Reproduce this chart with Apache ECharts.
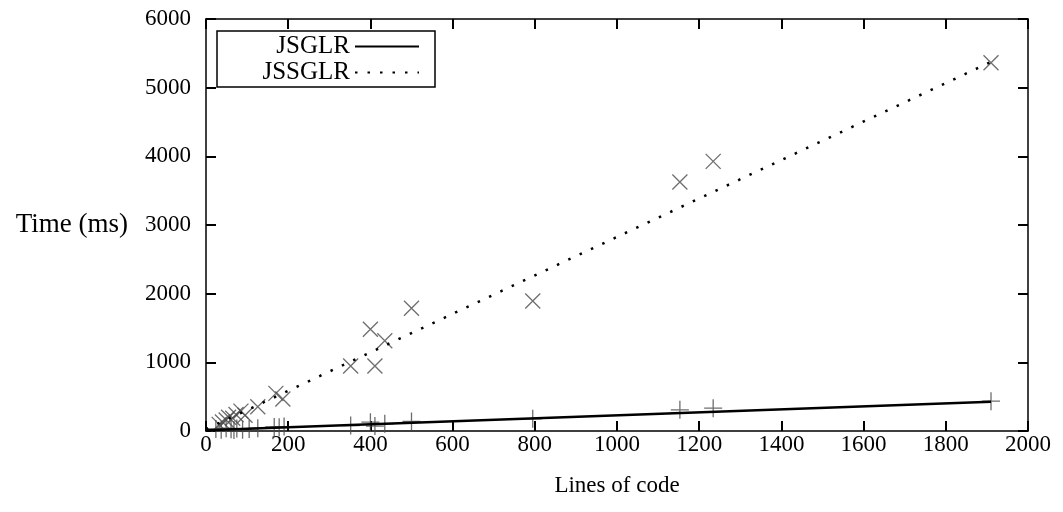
<!DOCTYPE html>
<html lang="en">
<head>
<meta charset="utf-8">
<title>JSGLR vs JSSGLR</title>
<script src="https://cdn.jsdelivr.net/npm/echarts@6/dist/echarts.min.js"></script>
<style>
  html, body { margin: 0; padding: 0; background: #fff; }
  #chart { width: 1063px; height: 512px; }
</style>
</head>
<body>
<div id="chart"></div>
<script>
  // measurements: [lines of code, time in ms]
  var jssglrPoints = [
    [32, 97], [40, 130], [49, 160], [55, 200], [65, 185], [73, 241], [85, 290],
    [95, 230], [126, 353], [170, 548], [187, 465], [352, 946], [400, 1483],
    [411, 946], [435, 1314], [500, 1788], [795, 1894], [1153, 3627],
    [1234, 3926], [1910, 5363]
  ];
  var jsglrPoints = [
    [24, 30], [37, 20], [49, 40], [61, 25], [68, 15], [75, 35], [89, 20],
    [105, 30], [126, 40], [166, 60], [178, 55], [190, 65], [352, 80],
    [400, 129], [411, 71], [435, 104], [500, 140], [795, 177], [1153, 308],
    [1234, 332], [1910, 434]
  ];
  // fitted lines (end points)
  var jsglrFit = [[0, 12], [1910, 425]];
  var jssglrFit = [[0, 25], [1910, 5375]];

  var font = 'Liberation Serif, Times New Roman, serif';
  var plusPath = 'path://M0,-10 L0,10 M-10,0 L10,0';
  var crossPath = 'path://M-10,-10 L10,10 M-10,10 L10,-10';

  var chart = echarts.init(document.getElementById('chart'));

  function plain(v) { return String(v); }

  function xAx(pos, show) {
    return {
      type: 'value', position: pos, min: 0, max: 2000, interval: 200,
      name: show ? 'Lines of code' : '', nameLocation: 'middle', nameGap: 43,
      nameTextStyle: { fontFamily: font, fontSize: 23, color: '#000' },
      axisLine: { show: true, onZero: false, lineStyle: { color: '#000', width: 1.5 } },
      axisTick: { show: true, inside: true, length: 10, lineStyle: { color: '#000', width: 2 } },
      axisLabel: { show: show, fontFamily: font, fontSize: 23, color: '#000', margin: 2, formatter: plain },
      splitLine: { show: false }
    };
  }
  function yAx(pos, show) {
    return {
      type: 'value', position: pos, min: 0, max: 6000, interval: 1000,
      name: show ? 'Time (ms)' : '', nameLocation: 'middle', nameGap: 78, nameRotate: 0,
      nameTextStyle: { fontFamily: font, fontSize: 27, color: '#000', align: 'right' },
      axisLine: { show: true, onZero: false, lineStyle: { color: '#000', width: 1.5 } },
      axisTick: { show: true, inside: true, length: 10, lineStyle: { color: '#000', width: 2 } },
      axisLabel: { show: show, fontFamily: font, fontSize: 23, color: '#000', margin: 15, formatter: plain },
      splitLine: { show: false }
    };
  }

  var option = {
    animation: false,
    backgroundColor: '#fff',
    grid: { left: 206, right: 35, top: 19, bottom: 81 },
    legend: {
      left: 217, top: 31, orient: 'vertical', align: 'right',
      data: ['JSGLR', 'JSSGLR'],
      itemWidth: 64, itemHeight: 14, itemGap: 1,
      padding: [3, 15, 2, 5],
      borderColor: '#000', borderWidth: 1.5, borderRadius: 0,
      backgroundColor: '#fff',
      itemStyle: { opacity: 0 },
      formatter: function (name) { return '{n|' + name + '}'; },
      textStyle: {
        fontFamily: font, fontSize: 25, color: '#000',
        rich: { n: { width: 128, align: 'right', fontFamily: font, fontSize: 25, lineHeight: 21, height: 21 } }
      }
    },
    xAxis: [xAx('bottom', true), xAx('top', false)],
    yAxis: [yAx('left', true), yAx('right', false)],
    series: [
      {
        name: 'JSGLR', type: 'line', data: jsglrFit, symbol: 'none',
        itemStyle: { color: '#000' },
        lineStyle: { color: '#000', width: 2.5 }, z: 3
      },
      {
        name: 'JSSGLR', type: 'line', data: jssglrFit, symbol: 'none',
        itemStyle: { color: '#000' },
        lineStyle: { color: '#000', width: 2.5, type: [2.5, 10] }, z: 3
      },
      {
        name: 'JSGLR points', type: 'scatter', data: jsglrPoints,
        symbol: plusPath, symbolSize: 18,
        itemStyle: { color: 'none', borderColor: '#4a4a4a', borderWidth: 1.3 }, z: 2
      },
      {
        name: 'JSSGLR points', type: 'scatter', data: jssglrPoints,
        symbol: crossPath, symbolSize: 15,
        itemStyle: { color: 'none', borderColor: '#4a4a4a', borderWidth: 1.3 }, z: 2
      }
    ]
  };
  chart.setOption(option);
</script>
</body>
</html>
